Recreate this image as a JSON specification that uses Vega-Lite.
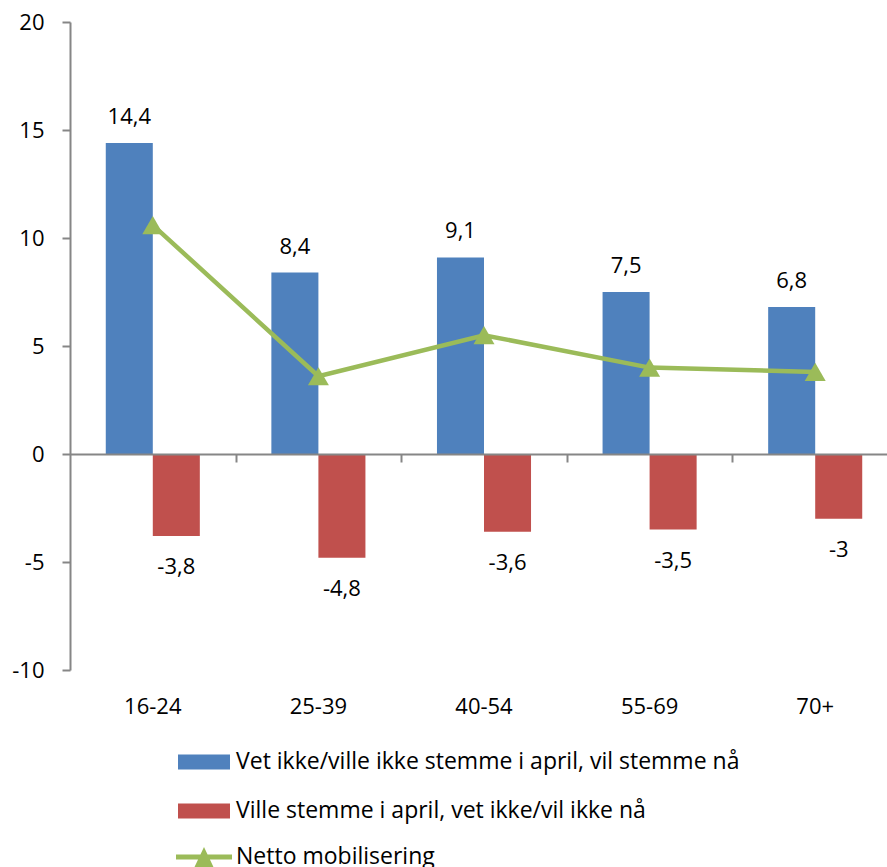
{
  "$schema": "https://vega.github.io/schema/vega-lite/v6.json",
  "autosize": {"type": "none"},
  "padding": {"left": 70, "top": 22, "right": 0, "bottom": 197},
  "width": 817,
  "height": 648,
  "config": {
    "view": {"stroke": null},
    "font": "Open Sans",
    "locale": {"number": {"decimal": ",", "thousands": " ", "grouping": [3], "currency": ["", " kr"], "minus": "-"}}
  },
  "datasets": {
    "bars": [
      {"age": "16-24", "series": "Vet ikke/ville ikke stemme i april, vil stemme nå", "value": 14.4},
      {"age": "16-24", "series": "Ville stemme i april, vet ikke/vil ikke nå", "value": -3.8},
      {"age": "25-39", "series": "Vet ikke/ville ikke stemme i april, vil stemme nå", "value": 8.4},
      {"age": "25-39", "series": "Ville stemme i april, vet ikke/vil ikke nå", "value": -4.8},
      {"age": "40-54", "series": "Vet ikke/ville ikke stemme i april, vil stemme nå", "value": 9.1},
      {"age": "40-54", "series": "Ville stemme i april, vet ikke/vil ikke nå", "value": -3.6},
      {"age": "55-69", "series": "Vet ikke/ville ikke stemme i april, vil stemme nå", "value": 7.5},
      {"age": "55-69", "series": "Ville stemme i april, vet ikke/vil ikke nå", "value": -3.5},
      {"age": "70+", "series": "Vet ikke/ville ikke stemme i april, vil stemme nå", "value": 6.8},
      {"age": "70+", "series": "Ville stemme i april, vet ikke/vil ikke nå", "value": -3.0}
    ],
    "netto": [
      {"age": "16-24", "netto": 10.6},
      {"age": "25-39", "netto": 3.6},
      {"age": "40-54", "netto": 5.5},
      {"age": "55-69", "netto": 4.0},
      {"age": "70+", "netto": 3.8}
    ]
  },
  "resolve": {"axis": {"x": "independent"}},
  "layer": [
    {
      "data": {"name": "bars"},
      "mark": {"type": "bar"},
      "encoding": {
        "x": {
          "field": "age", "type": "nominal",
          "scale": {"domain": ["16-24", "25-39", "40-54", "55-69", "70+"], "range": [0, 828], "paddingInner": 0.432, "paddingOuter": 0.216},
          "axis": {"orient": "bottom", "offset": -216, "title": null, "labels": false, "domainColor": "#868686", "domainWidth": 2, "ticks": true, "tickColor": "#868686", "tickWidth": 2, "tickSize": 8, "tickBand": "center", "tickOffset": 82.8, "zindex": 1}
        },
        "xOffset": {"field": "series", "type": "nominal", "scale": {"domain": ["Vet ikke/ville ikke stemme i april, vil stemme nå", "Ville stemme i april, vet ikke/vil ikke nå"]}},
        "y": {
          "field": "value", "type": "quantitative",
          "scale": {"domain": [-10, 20], "nice": false, "zero": false},
          "axis": {"title": null, "values": [-10, -5, 0, 5, 10, 15, 20], "grid": false, "domainColor": "#868686", "domainWidth": 2, "tickColor": "#868686", "tickWidth": 2, "tickSize": 8, "labelFontSize": 22, "labelColor": "black", "labelPadding": 18}
        },
        "fill": {
          "field": "series", "type": "nominal",
          "scale": {"domain": ["Vet ikke/ville ikke stemme i april, vil stemme nå", "Ville stemme i april, vet ikke/vil ikke nå"], "range": ["#4F81BD", "#C0504D"]},
          "legend": {"title": null, "orient": "none", "legendX": 108, "legendY": 714, "direction": "vertical", "padding": 0, "symbolType": "M-1,-0.288H1V0.288H-1Z", "symbolSize": 2704, "symbolStrokeWidth": 0, "labelFontSize": 23, "labelColor": "black", "labelOffset": 6, "rowPadding": 11, "labelLimit": 0}
        }
      }
    },
    {
      "data": {"name": "bars"},
      "transform": [{"filter": "datum.value >= 0"}],
      "mark": {"type": "text", "fontSize": 22, "color": "black", "baseline": "alphabetic", "dy": -19},
      "encoding": {
        "x": {"field": "age", "type": "nominal", "axis": {"orient": "bottom", "title": null, "domain": false, "ticks": false, "tickSize": 0, "labelFontSize": 22, "labelColor": "black", "labelBaseline": "alphabetic", "labelPadding": 43, "labelAngle": 0}},
        "xOffset": {"field": "series", "type": "nominal"},
        "y": {"field": "value", "type": "quantitative", "axis": {"title": null}},
        "text": {"field": "value", "type": "quantitative", "format": ".1~f"}
      }
    },
    {
      "data": {"name": "bars"},
      "transform": [{"filter": "datum.value < 0"}],
      "mark": {"type": "text", "fontSize": 22, "color": "black", "baseline": "alphabetic", "dy": 38},
      "encoding": {
        "x": {"field": "age", "type": "nominal", "axis": null},
        "xOffset": {"field": "series", "type": "nominal"},
        "y": {"field": "value", "type": "quantitative", "axis": {"title": null}},
        "text": {"field": "value", "type": "quantitative", "format": ".1~f"}
      }
    },
    {
      "data": {"name": "netto"},
      "mark": {"type": "line", "strokeWidth": 4.5},
      "encoding": {
        "x": {"field": "age", "type": "nominal", "axis": null},
        "y": {"field": "netto", "type": "quantitative", "axis": {"title": null}},
        "stroke": {
          "datum": "Netto mobilisering",
          "scale": {"range": ["#9BBB59"]},
          "legend": {"title": null, "orient": "none", "legendX": 106, "legendY": 807, "direction": "vertical", "padding": 0, "symbolType": "M-1,-0.09H1V0.09H-1Z M-0.34,0.36L0,-0.36L0.34,0.36Z", "symbolSize": 3136, "labelFontSize": 23, "labelColor": "black", "labelOffset": 4, "labelLimit": 0,
            "encode": {"symbols": {"update": {"fill": {"value": "#9BBB59"}, "stroke": {"value": "transparent"}, "strokeWidth": {"value": 0}}}}}
        }
      }
    },
    {
      "data": {"name": "netto"},
      "mark": {"type": "point", "shape": "triangle-up", "filled": true, "size": 441, "color": "#9BBB59", "opacity": 1},
      "encoding": {
        "x": {"field": "age", "type": "nominal", "axis": null},
        "y": {"field": "netto", "type": "quantitative", "axis": {"title": null}}
      }
    }
  ]
}
